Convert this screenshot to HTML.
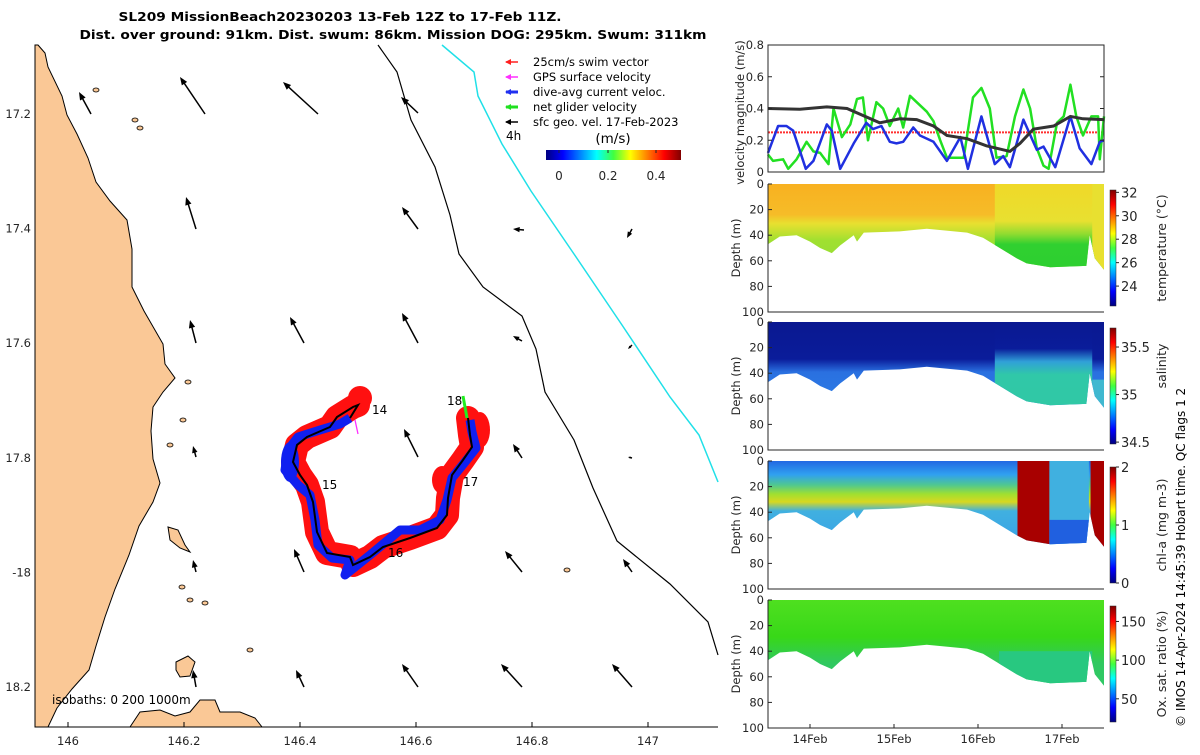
<!DOCTYPE html>
<html><head><meta charset="utf-8"><style>
body{margin:0;background:#fff;width:1200px;height:750px;overflow:hidden}
svg{font-family:"DejaVu Sans","Liberation Sans",sans-serif}
</style></head><body>
<svg id="s" width="1200" height="750" viewBox="0 0 1200 750">
<defs>
<linearGradient id="jetv" x1="0" y1="1" x2="0" y2="0"><stop offset="0" stop-color="#000080"/><stop offset=".125" stop-color="#0000ff"/><stop offset=".375" stop-color="#00ffff"/><stop offset=".5" stop-color="#40ff40"/><stop offset=".625" stop-color="#ffff00"/><stop offset=".875" stop-color="#ff0000"/><stop offset="1" stop-color="#800000"/></linearGradient>
<linearGradient id="jeth" x1="0" y1="0" x2="1" y2="0"><stop offset="0" stop-color="#000080"/><stop offset=".125" stop-color="#0000ff"/><stop offset=".375" stop-color="#00ffff"/><stop offset=".5" stop-color="#40ff40"/><stop offset=".625" stop-color="#ffff00"/><stop offset=".875" stop-color="#ff0000"/><stop offset="1" stop-color="#800000"/></linearGradient>
<linearGradient id="gT" x1="0" y1="0" x2="0" y2="1"><stop offset="0" stop-color="#f8b020"/><stop offset=".25" stop-color="#f6bc28"/><stop offset=".32" stop-color="#e8e030"/><stop offset=".45" stop-color="#a0e030"/><stop offset="1" stop-color="#80d840"/></linearGradient>
<linearGradient id="gTr" x1="0" y1="0" x2="0" y2="1"><stop offset="0" stop-color="#f0d828"/><stop offset=".3" stop-color="#e8e030"/><stop offset=".4" stop-color="#90dc30"/><stop offset=".48" stop-color="#30d030"/><stop offset="1" stop-color="#28cc30"/></linearGradient>
<linearGradient id="gS" x1="0" y1="0" x2="0" y2="1"><stop offset="0" stop-color="#0a1890"/><stop offset=".3" stop-color="#0a1c9a"/><stop offset=".4" stop-color="#2a70e0"/><stop offset="1" stop-color="#3090f0"/></linearGradient>
<linearGradient id="gSr" x1="0" y1="0" x2="0" y2="1"><stop offset="0" stop-color="#0a1890"/><stop offset=".22" stop-color="#0a1c9a"/><stop offset=".32" stop-color="#30a0d8"/><stop offset=".42" stop-color="#30c8a8"/><stop offset="1" stop-color="#30c8a0"/></linearGradient>
<linearGradient id="gC" x1="0" y1="0" x2="0" y2="1"><stop offset="0" stop-color="#2060e0"/><stop offset=".12" stop-color="#30a0f0"/><stop offset=".2" stop-color="#50c890"/><stop offset=".27" stop-color="#a0e030"/><stop offset=".33" stop-color="#d8d820"/><stop offset=".4" stop-color="#40b0e0"/><stop offset="1" stop-color="#3090f0"/></linearGradient>
<linearGradient id="gO" x1="0" y1="0" x2="0" y2="1"><stop offset="0" stop-color="#50e020"/><stop offset=".3" stop-color="#38d818"/><stop offset=".5" stop-color="#30c860"/><stop offset="1" stop-color="#30c870"/></linearGradient>
</defs>
<g font-weight="bold" font-size="12.5" fill="#000" text-anchor="middle">
<text x="340" y="21" textLength="443" lengthAdjust="spacingAndGlyphs">SL209 MissionBeach20230203 13-Feb 12Z to 17-Feb 11Z.</text>
<text x="393" y="39" textLength="627" lengthAdjust="spacingAndGlyphs">Dist. over ground: 91km. Dist. swum: 86km. Mission DOG: 295km. Swum: 311km</text>
</g>
<g id="map"></g>
<g id="vel"></g>
<g id="prof"></g>
<text transform="translate(1185,727) rotate(-90)" font-size="12" fill="#000">© IMOS 14-Apr-2024 14:45:39 Hobart time. QC flags 1  2</text>
</svg>
<script>
// ---- velocity data (days since 13-Feb 12Z) ----
const geoT=[0,0.38,0.70,0.94,1.33,1.57,1.77,1.97,2.13,2.37,2.60,2.88,3.0,3.16,3.40,3.60,3.75,4.0];
const geoV=[0.40,0.395,0.41,0.40,0.31,0.335,0.33,0.29,0.23,0.21,0.165,0.13,0.18,0.27,0.29,0.35,0.335,0.33];
const daT=[0,.12,.22,.30,.45,.54,.70,.76,.86,1.02,1.17,1.25,1.35,1.45,1.53,1.61,1.73,1.81,1.97,2.13,2.29,2.38,2.54,2.70,2.80,2.88,3.04,3.20,3.28,3.42,3.60,3.71,3.85,3.95,4.0];
const daV=[0.12,0.29,0.29,0.26,0.02,0.07,0.30,0.26,0.02,0.18,0.31,0.27,0.29,0.19,0.18,0.19,0.28,0.23,0.19,0.07,0.22,0.02,0.35,0.05,0.10,0.03,0.33,0.14,0.16,0.03,0.35,0.15,0.05,0.19,0.20];
const netT=[0,.06,.18,.24,.34,.46,.54,.62,.72,.78,.88,.98,1.06,1.13,1.19,1.29,1.37,1.45,1.55,1.61,1.69,1.77,1.89,1.97,2.05,2.13,2.33,2.44,2.54,2.64,2.72,2.84,2.94,3.04,3.12,3.20,3.28,3.34,3.44,3.52,3.60,3.67,3.75,3.85,3.93,3.95,4.0];
const netV=[0.11,0.07,0.08,0.02,0.08,0.19,0.13,0.12,0.05,0.40,0.22,0.30,0.46,0.47,0.20,0.44,0.40,0.29,0.40,0.28,0.48,0.44,0.38,0.32,0.20,0.09,0.09,0.47,0.53,0.40,0.09,0.10,0.35,0.52,0.40,0.15,0.04,0.02,0.31,0.35,0.55,0.35,0.23,0.35,0.35,0.08,0.35];
const swimV=0.25;
const velTicks=[0,0.2,0.4,0.6,0.8];
const dayTicks=[0.5,1.5,2.5,3.5];
const dayLabels=["14Feb","15Feb","16Feb","17Feb"];
// ---- profile bottom depth (m) ----
const botT=[0,0.14,0.34,0.50,0.62,0.76,0.86,1.02,1.06,1.14,1.57,1.89,2.37,2.56,2.76,2.96,3.08,3.36,3.79,3.83,3.89,4.0];
const botD=[47,41,40,45,50,54,48,40,45,38,37,35,38,42,50,58,62,65,64,40,58,67];
const tempTicks=[24,26,28,30,32], tempRange=[22.3,32.2];
const salTicks=[34.5,35,35.5], salRange=[34.48,35.7];
const chlTicks=[0,1,2], chlRange=[0,2];
const oxTicks=[50,100,150], oxRange=[20,170];
const depthTicks=[0,20,40,60,80,100];

const NS="http://www.w3.org/2000/svg";
function mk(tag,at,parent){const e=document.createElementNS(NS,tag);for(const k in at)e.setAttribute(k,at[k]);parent.appendChild(e);return e;}
const X0=768,X1=1104;
const tx=t=>X0+t*84;
// ---------- velocity panel ----------
const vel=document.getElementById('vel');
const VT=45,VB=172;
const vy=v=>VB-v*(VB-VT)/0.8;
function poly(ts,vs){return ts.map((t,i)=>tx(t).toFixed(1)+','+vy(vs[i]).toFixed(1)).join(' ');}
let l=mk('line',{x1:X0,x2:X1,y1:vy(swimV),y2:vy(swimV),stroke:'#ff3030','stroke-width':2,'stroke-dasharray':'2 1'},vel);


l=mk('polyline',{points:poly(netT,netV),fill:'none',stroke:'#22e022','stroke-width':2.5,'stroke-linejoin':'round'},vel);


l=mk('polyline',{points:poly(daT,daV),fill:'none',stroke:'#2030e0','stroke-width':2.5,'stroke-linejoin':'round'},vel);


l=mk('polyline',{points:poly(geoT,geoV),fill:'none',stroke:'#333','stroke-width':3},vel);


l=mk('rect',{x:X0,y:VT,width:X1-X0,height:VB-VT,fill:'none',stroke:'#262626','stroke-width':1},vel);


velTicks.forEach(v=>{
 const y=vy(v);
 mk('line',{x1:X0,x2:X0+4,y1:y,y2:y,stroke:'#262626'},vel);mk('line',{x1:X1,x2:X1-4,y1:y,y2:y,stroke:'#262626'},vel);
 const t=mk('text',{x:X0-4,y:y+4,'font-size':11.5,'text-anchor':'end',fill:'#262626'},vel);t.textContent=v;
 
 
});
l=mk('text',{transform:`translate(744,${(VT+VB)/2+4}) rotate(-90)`,'font-size':11.5,'text-anchor':'middle',fill:'#262626'},vel);
l.textContent='velocity magnitude (m/s)';


// ---------- profile panels ----------
const prof=document.getElementById('prof');
const panels=[
 {top:184,name:'temperature',grad:'gT',ticks:tempTicks,range:tempRange,label:'temperature (°C)'},
 {top:322,name:'salinity',grad:'gS',ticks:salTicks,range:salRange,label:'salinity'},
 {top:461,name:'chlorophyll',grad:'gC',ticks:chlTicks,range:chlRange,label:'chl-a (mg m-3)'},
 {top:600,name:'oxygen',grad:'gO',ticks:oxTicks,range:oxRange,label:'Ox. sat. ratio (%)'}];
panels.forEach((p,pi)=>{
 const g=mk('g',{},prof);
 
 
 const yd=d=>p.top+d*1.28;
 let pts=tx(0)+','+yd(0)+' '+botT.map((t,i)=>tx(t).toFixed(1)+','+yd(botD[i]).toFixed(1)).join(' ')+' '+tx(4)+','+yd(0);
 const cid='clip'+pi;
 const cp=mk('clipPath',{id:cid},g);mk('polygon',{points:pts},cp);
 const fg=mk('g',{'clip-path':`url(#${cid})`},g);
 let a=mk('rect',{x:X0-3,y:p.top-2,width:X1-X0+6,height:130,fill:`url(#${p.grad})`},fg);
 
 
 if(p.name==='temperature'){
  mk('rect',{x:tx(2.7),y:p.top-2,width:tx(4)-tx(2.7)+4,height:130,fill:'url(#gTr)'},fg);
  mk('rect',{x:tx(3.86),y:yd(0),width:30,height:130,fill:'#e8e030'},fg);
 }
 if(p.name==='salinity'){
  mk('rect',{x:tx(2.7),y:p.top-2,width:tx(3.86)-tx(2.7),height:130,fill:'url(#gSr)'},fg);
  mk('rect',{x:tx(3.86),y:yd(45),width:30,height:60,fill:'#40b8d0'},fg);
 }
 if(p.name==='chlorophyll'){
  mk('rect',{x:tx(2.97),y:p.top,width:tx(3.35)-tx(2.97),height:110,fill:'#a80000'},fg);
  mk('rect',{x:tx(3.35),y:p.top,width:tx(3.82)-tx(3.35),height:110,fill:'#40b0e0'},fg);
  mk('rect',{x:tx(3.35),y:yd(46),width:tx(3.82)-tx(3.35),height:30,fill:'#2060e0'},fg);
  mk('rect',{x:tx(3.84),y:p.top,width:30,height:110,fill:'#a80000'},fg);
 }
 if(p.name==='oxygen'){
  mk('rect',{x:tx(2.75),y:yd(40),width:tx(3.86)-tx(2.75),height:60,fill:'#28c880'},fg);
 }
 a=mk('polyline',{points:`${X0},${p.top} ${X0},${p.top+128} ${X1},${p.top+128}`,fill:'none',stroke:'#262626'},g);
 
 
 depthTicks.forEach(d=>{const y=yd(d);mk('line',{x1:X0,x2:X0+4,y1:y,y2:y,stroke:'#262626'},g);
  const t=mk('text',{x:X0-4,y:y+4,'font-size':11.5,'text-anchor':'end',fill:'#262626'},g);t.textContent=d;
  
  });
 a=mk('text',{transform:`translate(740,${p.top+64}) rotate(-90)`,'font-size':11.5,'text-anchor':'middle',fill:'#262626'},g);a.textContent='Depth (m)';
 
 
 const cbT=p.top+6,cbB=p.top+122;
 a=mk('rect',{x:1110,y:cbT,width:6,height:cbB-cbT,fill:'url(#jetv)',stroke:'#262626','stroke-width':0.5},g);
 
 
 p.ticks.forEach(v=>{const y=cbB-(v-p.range[0])/(p.range[1]-p.range[0])*(cbB-cbT);
  mk('line',{x1:1116,x2:1119,y1:y,y2:y,stroke:'#262626'},g);
  const t=mk('text',{x:1121,y:y+5,'font-size':13,fill:'#262626'},g);t.textContent=v;
  
  });
 a=mk('text',{transform:`translate(1166,${p.name==='salinity'?366:p.top+64}) rotate(-90)`,'font-size':12.5,'text-anchor':'middle',fill:'#262626'},g);a.textContent=p.label;
 
 
});
dayTicks.forEach((d,i)=>{const x=tx(d);mk('line',{x1:x,x2:x,y1:728,y2:724,stroke:'#262626'},prof);
 const t=mk('text',{x:x,y:743,'font-size':11.5,'text-anchor':'middle',fill:'#262626'},prof);t.textContent=dayLabels[i];
 
 });
// ---------- map ----------
const map=document.getElementById('map');
const lonX=lon=>68+(lon-146)*580, latY=lat=>114+(lat-17.2)*573;
const coast="38,45 45,53 48,67 62,96 67,115 77,134 88,158 96,182 110,201 127,220 132,249 132,287 144,311 163,344 165,364 175,378 163,392 153,407 151,431 153,459 160,483 153,502 139,526 129,555 115,589 105,617 96,646 89,670 72,689 57,708 48,727 35,727 35,45";
let e=mk('polygon',{points:coast,fill:'#fac896',stroke:'#000','stroke-width':1},map);


e=mk('path',{d:'M130,727 L140,712 L160,710 L175,716 L190,712 L200,700 L215,700 L220,712 L240,712 L255,718 L262,727 Z M176,662 L188,656 L195,662 L190,676 L180,677 L176,670 Z M168,527 L178,530 L185,545 L190,552 L180,548 L170,540 Z',fill:'#fac896',stroke:'#000','stroke-width':1},map);


[[96,90],[183,420],[182,587],[190,600],[205,603],[567,570],[188,382],[170,445],[135,120],[140,128],[250,650]].forEach(c=>{const i=mk('ellipse',{cx:c[0],cy:c[1],rx:3,ry:2,fill:'#fac896',stroke:'#000','stroke-width':0.8},map);
 
 });
e=mk('polyline',{points:'378,45 397,72 411,120 435,167 450,215 459,254 483,287 522,316 536,349 545,392 574,440 593,488 617,541 670,584 708,622 718,655',fill:'none',stroke:'#000','stroke-width':1.2},map);


e=mk('polyline',{points:'442,45 474,72 478,96 502,144 531,191 574,254 622,325 670,397 699,435 718,482',fill:'none',stroke:'#20e0e8','stroke-width':1.5},map);


const arrows=[[91,114,79,92],[205,114,180,77],[318,114,283,82],[418,113,401,97],
[196,229,186,197],[418,229,402,207],[524,230,513,229],[632,229,627,238],
[196,343,190,320],[304,343,290,317],[418,343,402,313],[522,341,513,336],[632,345,628,349],
[196,457,193,446],[418,457,404,429],[522,458,513,444],[632,458,628,457],
[196,572,193,560],[304,572,294,549],[522,572,505,551],[632,572,623,559],
[196,687,193,670],[304,687,296,670],[418,687,402,664],[522,687,501,664],[632,687,612,664]];
arrows.forEach(a=>{const [x1,y1,x2,y2]=a;const dx=x2-x1,dy=y2-y1,L=Math.hypot(dx,dy),ux=dx/L,uy=dy/L,h=Math.min(8,L*0.6);
 const g=mk('g',{},map);
 
 
 mk('line',{x1,y1,x2:x2-ux*h*0.6,y2:y2-uy*h*0.6,stroke:'#000','stroke-width':1.5},g);
 mk('polygon',{points:`${x2},${y2} ${x2-ux*h-uy*h*0.4},${y2-uy*h+ux*h*0.4} ${x2-ux*h+uy*h*0.4},${y2-uy*h-ux*h*0.4}`,fill:'#000'},g);
});
const track="358,405 353,407 337,417 330,427 307,437 297,445 293,462 300,475 307,485 313,502 317,532 327,553 350,557 353,565 370,557 383,547 410,538 437,528 447,515 448,498 452,475 463,460 472,447 470,435 468,418";
e=mk('polyline',{points:track,fill:'none',stroke:'#ff1010','stroke-width':24,'stroke-linejoin':'round','stroke-linecap':'round'},map);


mk('ellipse',{cx:360,cy:398,rx:12,ry:12,fill:'#ff1010'},map);
mk('ellipse',{cx:480,cy:430,rx:10,ry:18,fill:'#ff1010'},map);
mk('ellipse',{cx:442,cy:480,rx:10,ry:14,fill:'#ff1010'},map);
e=mk('polyline',{points:"350,418 340,424 320,430 298,437 288,450 285,470 298,485 310,495 315,520 318,545 332,558 350,560 345,575 370,555 400,530 420,530 440,520 447,500 452,478 465,462 476,448 472,432 470,420",fill:'none',stroke:'#1020f0','stroke-width':9,'stroke-linejoin':'round'},map);


mk('ellipse',{cx:290,cy:462,rx:9,ry:20,fill:'#1020f0'},map);
e=mk('polyline',{points:"350,418 358,405 "+track,fill:'none',stroke:'#000','stroke-width':2},map);


e=mk('line',{x1:355,y1:420,x2:358,y2:434,stroke:'#ff30ff','stroke-width':1.3},map);


e=mk('line',{x1:467,y1:418,x2:463,y2:396,stroke:'#20ee20','stroke-width':3},map);


[['14',372,414],['15',322,489],['16',388,557],['17',463,486],['18',447,405]].forEach(d=>{const t=mk('text',{x:d[1],y:d[2],'font-size':12,fill:'#000'},map);t.textContent=d[0];
 
 });
e=mk('line',{x1:35,x2:35,y1:45,y2:727,stroke:'#000'},map);
e=mk('line',{x1:35,x2:718,y1:727,y2:727,stroke:'#000'},map);


[[146,'146'],[146.2,'146.2'],[146.4,'146.4'],[146.6,'146.6'],[146.8,'146.8'],[147,'147']].forEach(v=>{const x=lonX(v[0]);
 mk('line',{x1:x,x2:x,y1:727,y2:722,stroke:'#000'},map);
 const t=mk('text',{x:x,y:745,'font-size':11.5,'text-anchor':'middle',fill:'#262626'},map);t.textContent=v[1];
 
 });
[[17.2,'17.2'],[17.4,'17.4'],[17.6,'17.6'],[17.8,'17.8'],[18,'-18'],[18.2,'18.2']].forEach(v=>{const y=latY(v[0]);
 const t=mk('text',{x:31,y:y+4,'font-size':11.5,'text-anchor':'end',fill:'#262626'},map);t.textContent=v[1];
 
 });
e=mk('text',{x:52,y:704,'font-size':12,fill:'#000'},map);e.textContent='isobaths: 0   200  1000m';


const leg=mk('g',{},map);


[['#ff2020','25cm/s swim vector',62],['#ff30ff','GPS surface velocity',77],['#2030f0','dive-avg current veloc.',92],['#20e020','net glider velocity',107],['#000','sfc geo. vel. 17-Feb-2023',122]].forEach(r=>{
 const y=r[2];const g=mk('g',{},leg);
 
 
 mk('line',{x1:506,x2:518,y1:y,y2:y,stroke:r[0],'stroke-width':r[0]==='#20e020'||r[0]==='#2030f0'?3:1.5},g);
 mk('polygon',{points:`505,${y} 511,${y-3} 511,${y+3}`,fill:r[0]},g);
 const t=mk('text',{x:533,y:y+4,'font-size':11.5,fill:'#000'},g);t.textContent=r[1];
});
e=mk('text',{x:506,y:140,'font-size':12,fill:'#000'},leg);e.textContent='4h';
e=mk('text',{x:613,y:143,'font-size':13.5,'text-anchor':'middle',fill:'#000'},leg);e.textContent='(m/s)';
e=mk('rect',{x:546,y:150,width:135,height:10,fill:'url(#jeth)'},leg);


[['0',559],['0.2',608],['0.4',656]].forEach(v=>{mk('line',{x1:v[1],x2:v[1],y1:150,y2:153,stroke:'#262626'},leg);
 const t=mk('text',{x:v[1],y:180,'font-size':12,'text-anchor':'middle',fill:'#262626'},leg);t.textContent=v[0];
 
 });
</script>
</body></html>
